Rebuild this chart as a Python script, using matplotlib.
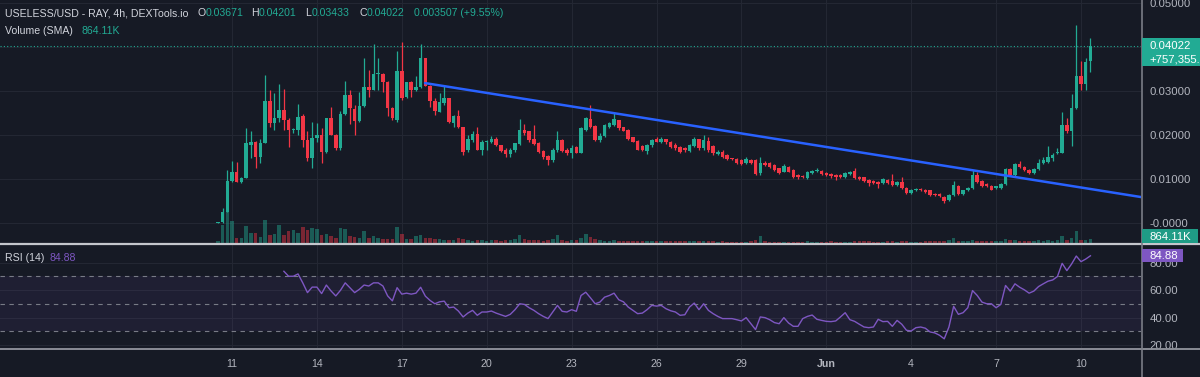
import matplotlib
matplotlib.use("Agg")
import matplotlib.pyplot as plt
from matplotlib.patches import Rectangle
from matplotlib.lines import Line2D
import numpy as np

plt.rcParams['font.family'] = ['Liberation Sans', 'DejaVu Sans']

# ---------------- data ----------------
first_candle_day = -0.5          # days after May 11 00:00 (May 10 12:00)
candle_step_day = 1 / 6          # 4h candles

opens = [
    .0001, .0003, .0026, .0095, .0117, .0094, .0102, .0177, .0185, .0151,
    .0181, .0277, .0227, .0238, .0257, .0234, .0211, .0211, .0243, .0189,
    .0147, .0194, .0200, .0162, .0238, .0200, .0170, .0247, .0292, .0259,
    .0232, .0267, .0310, .0302, .0338, .0338, .0321, .0262, .0234, .0345,
    .0287, .0321, .0302, .0308, .0374, .0312, .0277, .0253, .0272, .0283,
    .0227, .0243, .0219, .0166, .0189, .0202, .0166, .0185, .0185, .0192,
    .0177, .0167, .0157, .0166, .0180, .0211, .0208, .0192, .0181, .0164,
    .0152, .0143, .0166, .0189, .0166, .0158, .0172, .0160, .0211, .0236,
    .0220, .0189, .0198, .0219, .0223, .0234, .0219, .0211, .0196, .0186,
    .0175, .0164, .0177, .0190, .0185, .0190, .0185, .0177, .0173, .0170,
    .0164, .0175, .0190, .0170, .0187, .0175, .0157, .0162, .0155, .0146,
    .0145, .0143, .0137, .0143, .0143, .0113, .0136, .0136, .0132, .0124,
    .0117, .0128, .0120, .0109, .0107, .0102, .0114, .0119, .0119, .0114,
    .0111, .0109, .0109, .0104, .0111, .0119, .0105, .0104, .0098, .0096,
    .0094, .0090, .0098, .0096, .0086, .0094, .0080, .0069, .0074, .0077,
    .0075, .0074, .0067, .0066, .0060, .0052, .0064, .0085, .0066, .0074,
    .0079, .0109, .0096, .0089, .0085, .0079, .0079, .0088, .0122, .0109,
    .0134, .0128, .0120, .0114, .0122, .0136, .0139, .0147, .0158, .0159,
    .0223, .0208, .0261, .0333, .0317, .03671]
highs = [
    .0002, .0035, .0120, .0141, .0139, .0105, .0217, .0208, .0187, .0191,
    .0336, .0302, .0295, .0315, .0305, .0238, .0215, .0270, .0247, .0208,
    .0229, .0227, .0215, .0238, .0264, .0202, .0255, .0323, .0302, .0268,
    .0298, .0374, .0348, .0406, .0374, .0340, .0323, .0264, .0391, .0412,
    .0321, .0323, .0334, .0406, .0376, .0314, .0283, .0295, .0311, .0283,
    .0245, .0257, .0219, .0200, .0208, .0219, .0189, .0189, .0198, .0196,
    .0177, .0170, .0170, .0181, .0236, .0225, .0208, .0223, .0185, .0166,
    .0155, .0170, .0208, .0192, .0170, .0177, .0175, .0219, .0242, .0268,
    .0222, .0204, .0225, .0230, .0249, .0234, .0219, .0213, .0196, .0189,
    .0177, .0180, .0192, .0196, .0196, .0192, .0187, .0181, .0175, .0172,
    .0180, .0196, .0192, .0200, .0195, .0177, .0166, .0165, .0157, .0148,
    .0147, .0145, .0149, .0145, .0145, .0151, .0140, .0138, .0134, .0126,
    .0134, .0130, .0122, .0111, .0109, .0119, .0121, .0124, .0121, .0115,
    .0113, .0111, .0111, .0115, .0119, .0124, .0107, .0105, .0100, .0098,
    .0096, .0102, .0100, .0111, .0096, .0105, .0082, .0077, .0079, .0079,
    .0077, .0075, .0069, .0068, .0062, .0066, .0095, .0087, .0076, .0081,
    .0120, .0117, .0098, .0091, .0087, .0085, .0091, .0125, .0124, .0137,
    .0142, .0130, .0122, .0124, .0145, .0151, .0175, .0160, .0170, .0253,
    .0238, .0293, .0450, .0369, .0374, .04201]
lows = [
    .0000, .0000, .0026, .0094, .0094, .0092, .0102, .0147, .0124, .0136,
    .0181, .0219, .0211, .0230, .0211, .0173, .0205, .0200, .0173, .0141,
    .0124, .0185, .0136, .0158, .0200, .0166, .0166, .0245, .0224, .0200,
    .0229, .0264, .0287, .0302, .0302, .0298, .0243, .0234, .0229, .0280,
    .0283, .0287, .0300, .0306, .0312, .0264, .0246, .0253, .0268, .0227,
    .0219, .0215, .0155, .0162, .0185, .0166, .0155, .0166, .0181, .0175,
    .0162, .0151, .0151, .0162, .0177, .0200, .0185, .0177, .0158, .0145,
    .0132, .0139, .0162, .0162, .0155, .0147, .0158, .0158, .0208, .0215,
    .0187, .0185, .0195, .0215, .0220, .0211, .0208, .0189, .0183, .0166,
    .0164, .0157, .0173, .0183, .0181, .0180, .0170, .0166, .0160, .0162,
    .0162, .0172, .0167, .0166, .0162, .0155, .0155, .0148, .0143, .0143,
    .0135, .0132, .0135, .0135, .0110, .0109, .0130, .0126, .0118, .0111,
    .0115, .0115, .0103, .0101, .0102, .0100, .0112, .0117, .0109, .0107,
    .0102, .0098, .0102, .0102, .0109, .0100, .0097, .0094, .0085, .0088,
    .0079, .0089, .0088, .0085, .0084, .0077, .0067, .0067, .0072, .0072,
    .0069, .0062, .0062, .0059, .0045, .0050, .0062, .0064, .0064, .0072,
    .0077, .0092, .0081, .0081, .0074, .0077, .0077, .0086, .0107, .0107,
    .0126, .0118, .0112, .0112, .0120, .0134, .0137, .0140, .0156, .0158,
    .0205, .0174, .0259, .0302, .0302, .03433]
closes = [
    .0001, .0026, .0095, .0117, .0094, .0103, .0181, .0185, .0151, .0181,
    .0277, .0227, .0238, .0257, .0234, .0211, .0212, .0242, .0189, .0147,
    .0194, .0200, .0162, .0238, .0200, .0170, .0247, .0291, .0261, .0232,
    .0267, .0310, .0302, .0338, .0340, .0321, .0262, .0238, .0345, .0283,
    .0321, .0302, .0310, .0374, .0312, .0277, .0255, .0276, .0283, .0230,
    .0243, .0219, .0162, .0192, .0202, .0166, .0185, .0187, .0192, .0177,
    .0164, .0156, .0167, .0181, .0211, .0204, .0189, .0180, .0162, .0149,
    .0143, .0167, .0189, .0164, .0158, .0170, .0160, .0215, .0238, .0219,
    .0189, .0198, .0223, .0227, .0236, .0215, .0210, .0192, .0185, .0167,
    .0167, .0177, .0189, .0185, .0192, .0183, .0172, .0170, .0162, .0166,
    .0177, .0190, .0170, .0189, .0166, .0158, .0162, .0151, .0145, .0145,
    .0137, .0134, .0145, .0137, .0111, .0136, .0132, .0128, .0120, .0114,
    .0130, .0117, .0105, .0104, .0104, .0117, .0119, .0120, .0111, .0109,
    .0107, .0104, .0104, .0114, .0117, .0102, .0099, .0096, .0090, .0090,
    .0089, .0099, .0090, .0086, .0094, .0079, .0069, .0075, .0077, .0074,
    .0071, .0064, .0064, .0061, .0049, .0064, .0087, .0066, .0074, .0079,
    .0109, .0094, .0083, .0083, .0076, .0083, .0089, .0123, .0109, .0134,
    .0128, .0120, .0114, .0122, .0137, .0143, .0149, .0155, .0162, .0223,
    .0208, .0261, .0333, .0317, .0367, .04022]
volumes_k = [
    200, 1980, 3420, 2340, 540, 540, 1800, 1080, 1080, 610,
    2520, 900, 970, 1910, 900, 1260, 1440, 1080, 1690, 1440,
    1620, 1550, 900, 970, 720, 540, 1620, 1510, 720, 610,
    540, 1330, 540, 720, 540, 470, 470, 470, 1690, 970,
    470, 470, 720, 900, 540, 540, 470, 380, 330, 300,
    330, 500, 380, 300, 260, 300, 330, 260, 300, 330,
    260, 300, 330, 380, 860, 380, 300, 330, 300, 260,
    330, 380, 900, 330, 260, 300, 330, 540, 940, 680,
    380, 300, 260, 260, 300, 260, 220, 260, 220, 260,
    220, 220, 260, 220, 200, 220, 200, 220, 200, 180,
    220, 260, 220, 260, 200, 180, 160, 180, 160, 150,
    160, 150, 160, 200, 330, 760, 200, 160, 150, 160,
    150, 160, 150, 140, 150, 180, 150, 140, 150, 160,
    200, 150, 140, 150, 160, 200, 180, 250, 200, 160,
    150, 160, 180, 200, 160, 220, 200, 160, 150, 160,
    180, 200, 180, 200, 260, 300, 500, 260, 220, 260,
    330, 260, 220, 200, 220, 200, 260, 380, 300, 330,
    260, 220, 200, 220, 300, 260, 330, 260, 300, 760,
    330, 500, 1330, 330, 330, 400]
rsi_first_candle = 14
rsi_values = [
    73.6, 70.0, 70.0, 71.7, 65.2, 58.1, 62.1, 62.1, 57.4, 63.6,
    59.3, 55.7, 59.8, 65.2, 61.7, 58.1, 60.5, 63.6, 62.9, 65.2,
    65.2, 62.9, 55.7, 52.1, 61.7, 57.0, 57.7, 57.0, 57.7, 62.0,
    55.5, 52.4, 50.0, 51.4, 51.9, 47.1, 47.6, 44.7, 40.4, 43.2,
    45.2, 41.6, 44.0, 44.0, 44.7, 43.2, 42.0, 40.8, 42.3, 45.7,
    50.0, 49.5, 47.1, 45.2, 42.8, 40.8, 39.2, 44.0, 48.8, 44.5,
    44.0, 45.7, 44.5, 56.0, 58.4, 54.3, 50.0, 51.2, 54.8, 56.0,
    57.7, 52.9, 51.4, 47.6, 45.2, 42.8, 43.2, 45.7, 48.8, 48.3,
    48.8, 46.4, 44.9, 44.0, 41.6, 42.0, 47.6, 50.5, 45.7, 50.0,
    45.2, 42.8, 40.8, 39.2, 39.2, 39.2, 38.4, 37.5, 39.9, 35.5,
    31.2, 40.4, 39.9, 38.4, 36.3, 35.5, 39.9, 36.0, 33.6, 33.6,
    39.2, 40.8, 41.8, 38.7, 37.9, 37.2, 37.0, 37.5, 40.4, 43.5,
    38.4, 37.2, 35.1, 33.1, 32.6, 33.1, 38.7, 37.0, 37.2, 33.6,
    37.9, 35.1, 30.7, 30.2, 32.6, 33.1, 32.2, 29.5, 28.8, 27.1,
    24.5, 33.1, 48.1, 42.3, 43.5, 47.1, 59.6, 56.0, 51.2, 50.0,
    50.0, 47.1, 49.5, 63.3, 59.2, 64.5, 62.0, 60.1, 57.7, 59.2,
    62.5, 64.5, 66.4, 67.3, 69.8, 79.4, 74.1, 78.9, 84.7, 80.6,
    82.5, 84.88]
date_tick_days = [0, 3, 6, 9, 12, 15, 18, 21, 24, 27, 30]
date_tick_labels = ["11", "14", "17", "20", "23", "26", "29", "Jun", "4", "7", "10"]
price_ticks = [0.0, 0.01, 0.02, 0.03, 0.04, 0.05]
price_tick_labels = ["-0.0000", "0.01000", "0.02000", "0.03000", "0.04000", "0.05000"]
rsi_ticks = [20, 40, 60, 80]
rsi_tick_labels = ["20.00", "40.00", "60.00", "80.00"]
rsi_levels = [70, 50, 30]
trend_days = [6.82, 32.12]
trend_prices = [0.0318, 0.0059]
last_price = 0.04022
price_change_abs = "+757,355."
volume_sma_label = "864.11K"
rsi_last = 84.88
ohlc_header = [("O", "0.03671"), ("H", "0.04201"), ("L", "0.03433"), ("C", "0.04022")]
change_text = "0.003507 (+9.55%)"

# ---------------- style / layout ----------------
W, H = 1200, 377
BG = '#161a25'
GRID = '#232733'
UP = '#22ab94'
DOWN = '#f23645'
TXT = '#d1d4dc'
AXT = '#b2b5be'
RSI_C = '#7e57c2'
TREND = '#2962ff'

main_top, main_bot = 0, 243
rsi_top, rsi_bot = 245, 348
axis_x = 1141
view_days = (-8.198, 32.12)
price_lim = (-0.004545, 0.050682)
rsi_lim = (17.82, 92.73)
vol_full_k = 243 * 108      # volume that would fill the price pane

fig = plt.figure(figsize=(W / 100, H / 100), dpi=100, facecolor=BG)
ax = fig.add_axes([0, 1 - main_bot / H, axis_x / W, (main_bot - main_top) / H], facecolor=BG)
axr = fig.add_axes([0, 1 - rsi_bot / H, axis_x / W, (rsi_bot - rsi_top) / H], facecolor=BG)

for a in (ax, axr):
    a.set_xlim(*view_days)
    for s in a.spines.values():
        s.set_visible(False)
    a.set_xticks(date_tick_days)
    a.grid(True, color=GRID, lw=0.8, zorder=0)
    a.set_axisbelow(True)
    a.yaxis.tick_right()
    a.tick_params(axis='y', length=0, pad=6, labelsize=8.2, labelcolor=AXT)

ax.set_ylim(*price_lim)
ax.set_yticks(price_ticks, price_tick_labels)
ax.tick_params(axis='x', length=0, labelbottom=False)

n = len(closes)
days = first_candle_day + np.arange(n) * candle_step_day
o = np.array(opens); h = np.array(highs); l = np.array(lows); c = np.array(closes)
up = c >= o
cols = np.where(up, UP, DOWN)

# volume bars at the bottom of the price pane
vol_h = np.array(volumes_k) / vol_full_k * (price_lim[1] - price_lim[0])
ax.bar(days, vol_h, bottom=price_lim[0], width=0.125, color=cols, alpha=0.45, lw=0, zorder=1)

# candles
ax.vlines(days, l, h, colors=cols, lw=0.9, zorder=3)
body_low = np.minimum(o, c)
body_h = np.maximum(np.abs(c - o), 0.00022)
ax.bar(days, body_h, bottom=body_low, width=0.125, color=cols, lw=0, zorder=3)

# current price line and trend line
ax.axhline(last_price, color=UP, lw=0.8, ls=(0, (1, 2)), zorder=2)
ax.plot(trend_days, trend_prices, color=TREND, lw=1.8, zorder=4, solid_capstyle='round')

# RSI pane
axr.set_ylim(*rsi_lim)
axr.set_yticks(rsi_ticks, rsi_tick_labels)
axr.fill_between(view_days, rsi_levels[-1], rsi_levels[0], color=RSI_C, alpha=0.09, lw=0, zorder=1)
for lev in rsi_levels:
    axr.axhline(lev, color='#787b86', lw=0.8, ls=(0, (4, 4)), zorder=2)
axr.plot(days[rsi_first_candle:rsi_first_candle + len(rsi_values)], rsi_values,
         color=RSI_C, lw=1.0, zorder=3)
axr.set_xticks(date_tick_days, date_tick_labels)
axr.tick_params(axis='x', length=0, pad=8, labelsize=7.7, labelcolor=AXT)
for t in axr.get_xticklabels():
    if t.get_text() == "Jun":
        t.set_fontweight('bold')

# ---------------- separators ----------------
def px(xp, yp):
    return xp / W, 1 - yp / H

fig.add_artist(Line2D([0, 1], [1 - 243.8 / H] * 2, transform=fig.transFigure,
                      color='#c4c6cc', lw=1.6, zorder=8))
fig.add_artist(Line2D([0, 1], [1 - 348.5 / H] * 2, transform=fig.transFigure,
                      color='#8a8d96', lw=1.4, zorder=8))
fig.add_artist(Line2D([(axis_x + 0.5) / W] * 2, [0, 1], transform=fig.transFigure,
                      color='#7a7d87', lw=1.2, zorder=8))

# ---------------- value boxes on the right ----------------
fig.canvas.draw()
def data_to_py(a, val):
    return H - a.transData.transform((0, val))[1]

def box(y0, y1, x1, color):
    fig.add_artist(Rectangle(px(axis_x + 1, y1), (x1 - axis_x - 1) / W, (y1 - y0) / H,
                             transform=fig.transFigure, color=color, lw=0, zorder=9))

yp = data_to_py(ax, last_price)
box(yp - 8, yp + 20, W, UP)
fig.text(*px(1149, yp), f"{last_price:.5f}", color='white', fontsize=8.2, va='center', zorder=10)
fig.text(*px(1149, yp + 13), price_change_abs, color='white', fontsize=8.2, va='center', zorder=10)

box(229, 243, 1198, '#1f9c86')
fig.text(*px(1149, 236.5), volume_sma_label, color='white', fontsize=8.2, va='center', zorder=10)

yr = data_to_py(axr, rsi_last)
box(yr - 6.5, yr + 6.5, 1183, RSI_C)
fig.text(*px(1149, yr), f"{rsi_last:.2f}", color='white', fontsize=8.2, va='center', zorder=10)

# ---------------- header texts ----------------
FS = 7.55
fig.text(*px(5, 13), "USELESS/USD - RAY, 4h, DEXTools.io", color=TXT, fontsize=FS, va='center')
letter_x = [197, 251, 305, 359]
value_x = [206, 259, 312, 367]
for (letter, val), lx, vx in zip(ohlc_header, letter_x, value_x):
    fig.text(*px(lx, 13), letter, color=TXT, fontsize=FS, va='center')
    fig.text(*px(vx, 13), val, color=UP, fontsize=FS, va='center')
fig.text(*px(414, 13), change_text, color=UP, fontsize=FS, va='center')
fig.text(*px(5, 31), "Volume (SMA)", color=TXT, fontsize=FS, va='center')
fig.text(*px(82, 31), volume_sma_label, color=UP, fontsize=FS, va='center')
fig.text(*px(5, 258), "RSI (14)", color=TXT, fontsize=FS, va='center')
fig.text(*px(50, 258), f"{rsi_last:.2f}", color=RSI_C, fontsize=FS, va='center')

fig.savefig("out.png", dpi=100, facecolor=BG)
